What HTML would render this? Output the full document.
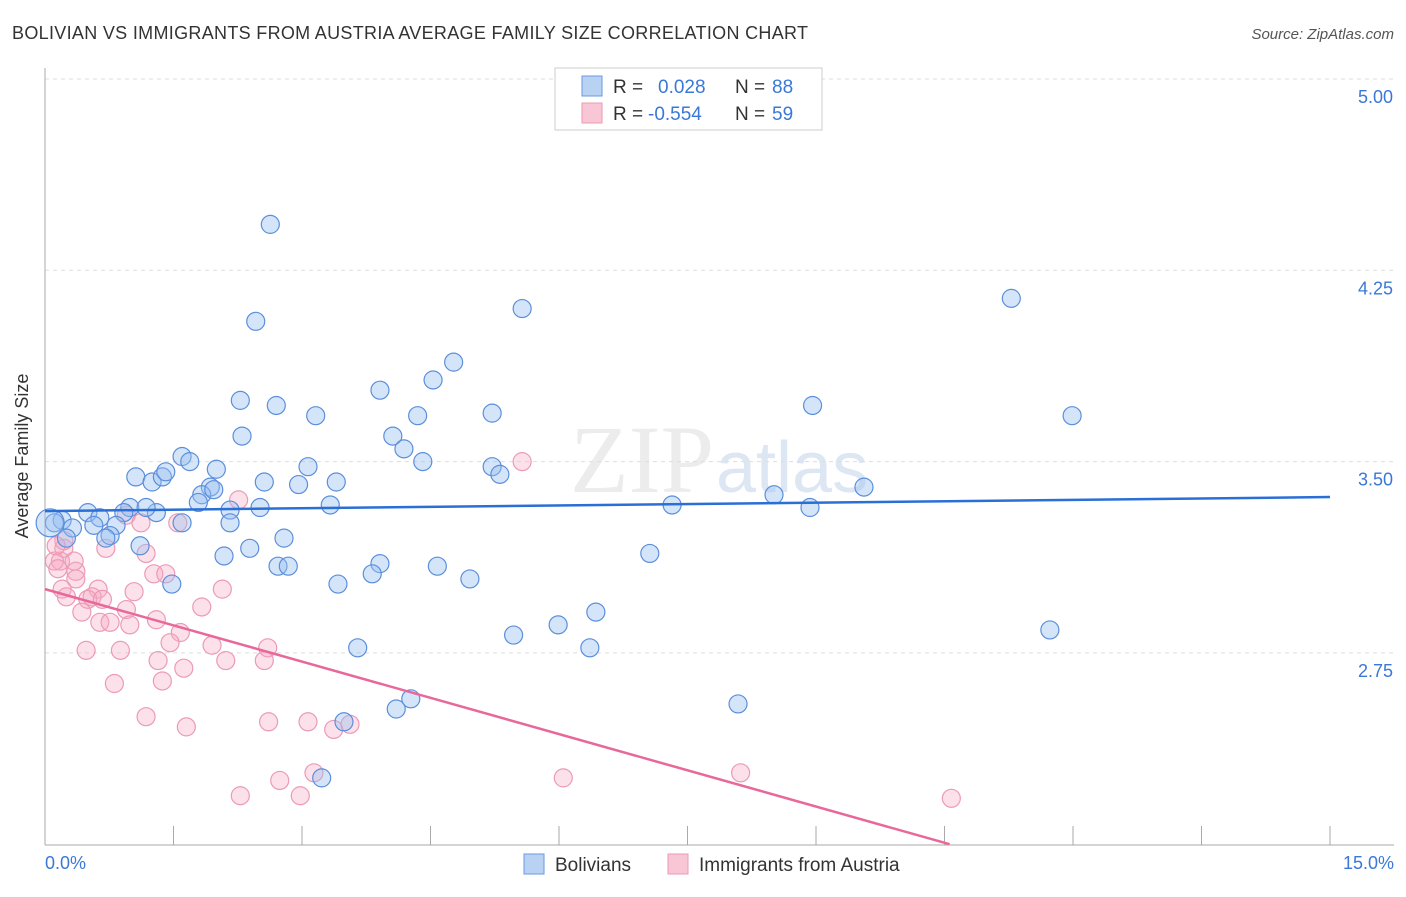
<!DOCTYPE html>
<html><head><meta charset="utf-8"><style>
body{margin:0;background:#fff;width:1406px;height:892px;overflow:hidden;font-family:"Liberation Sans",sans-serif}
</style></head><body>
<svg id="chart" width="1406" height="892" xmlns="http://www.w3.org/2000/svg" font-family="Liberation Sans, sans-serif">
<text x="12" y="39" font-size="18" fill="#333" textLength="796">BOLIVIAN VS IMMIGRANTS FROM AUSTRIA AVERAGE FAMILY SIZE CORRELATION CHART</text>
<text x="1394" y="39" font-size="15" fill="#555" text-anchor="end" font-style="italic">Source: ZipAtlas.com</text>
<text x="714" y="492" font-size="96" fill="#ececec" text-anchor="end" font-family="Liberation Serif, serif">ZIP</text>
<text x="716" y="492" font-size="72" fill="#dde6f3">atlas</text>
<g id="grid"></g>
<g id="axes"></g>
<g id="pts"></g>
<g id="lines"></g>
<text x="28" y="456" font-size="18" fill="#333" text-anchor="middle" transform="rotate(-90 28 456)">Average Family Size</text>
<text x="45" y="869" font-size="18" fill="#3a78d8">0.0%</text>
<text x="1394" y="869" font-size="18" fill="#3a78d8" text-anchor="end">15.0%</text>
<g>
<rect x="555" y="68" width="267" height="62" fill="#fff" stroke="#ccc"/>
<rect x="582" y="76" width="20" height="20" fill="#b8d2f4" stroke="#6a9ae0"/>
<rect x="582" y="103" width="20" height="20" fill="#f9c6d6" stroke="#ea9ab4"/>
<text x="613" y="93" font-size="19" fill="#333">R = </text><text x="658" y="93" font-size="19" fill="#3a78d8">0.028</text>
<text x="735" y="93" font-size="19" fill="#333">N = </text><text x="772" y="93" font-size="19" fill="#3a78d8">88</text>
<text x="613" y="120" font-size="19" fill="#333">R = </text><text x="648" y="120" font-size="19" fill="#3a78d8">-0.554</text>
<text x="735" y="120" font-size="19" fill="#333">N = </text><text x="772" y="120" font-size="19" fill="#3a78d8">59</text>
</g>
<g>
<rect x="524" y="854" width="20" height="20" fill="#b8d2f4" stroke="#6a9ae0"/>
<text x="555" y="871" font-size="19" fill="#333">Bolivians</text>
<rect x="668" y="854" width="20" height="20" fill="#f9c6d6" stroke="#ea9ab4"/>
<text x="699" y="871" font-size="19" fill="#333">Immigrants from Austria</text>
</g>
</svg>
<script>
const yTicks=[5.00,4.25,3.50,2.75];
const yTickLabels=["5.00","4.25","3.50","2.75"];
const xTicks=[0,1.5,3,4.5,6,7.5,9,10.5,12,13.5,15];
const blueX=[2.63,2.46,5.57,11.28,4.77,4.53,3.91,2.28,2.70,3.16,4.35,5.22,8.96,11.99,2.30,4.06,4.19,1.60,1.69,2.00,3.07,4.41,5.22,5.31,1.06,1.25,1.37,1.41,2.56,2.96,3.40,1.93,1.83,1.97,1.79,2.16,2.51,3.33,7.32,8.51,9.56,8.93,0.99,0.92,1.30,1.18,0.50,0.64,0.20,0.11,0.06,0.32,0.57,0.83,1.60,2.16,0.76,0.71,0.25,2.79,1.11,2.39,2.09,7.06,3.91,3.82,2.72,2.84,4.58,4.96,3.42,1.48,6.43,5.99,5.47,11.73,6.36,3.65,8.09,4.27,4.10,3.49,3.23];
const blueY=[4.43,4.05,4.10,4.14,3.89,3.82,3.78,3.74,3.72,3.68,3.68,3.69,3.72,3.68,3.60,3.60,3.55,3.52,3.50,3.47,3.48,3.50,3.48,3.45,3.44,3.42,3.44,3.46,3.42,3.41,3.42,3.40,3.37,3.39,3.34,3.31,3.32,3.33,3.33,3.37,3.40,3.32,3.32,3.30,3.30,3.32,3.30,3.28,3.27,3.26,3.26,3.24,3.25,3.25,3.26,3.26,3.21,3.20,3.20,3.20,3.17,3.16,3.13,3.14,3.10,3.06,3.09,3.09,3.09,3.04,3.02,3.02,2.91,2.86,2.82,2.84,2.77,2.77,2.55,2.57,2.53,2.48,2.26];
const pinkX=[5.57,2.26,0.95,1.12,1.55,1.18,0.71,0.22,0.18,0.11,0.15,0.36,0.36,0.62,0.20,0.25,1.04,1.27,1.41,2.07,0.55,0.50,0.67,0.95,0.43,1.83,0.64,0.76,0.99,1.30,1.58,1.46,1.95,2.60,0.48,0.88,1.32,2.11,2.56,1.62,1.37,0.81,1.18,1.65,2.61,3.07,3.37,3.56,2.74,3.14,2.28,2.98,6.05,8.12,10.58,0.22,0.34,0.13];
const pinkY=[3.50,3.35,3.29,3.26,3.26,3.14,3.16,3.16,3.11,3.11,3.08,3.07,3.04,3.00,3.00,2.97,2.99,3.06,3.06,3.00,2.97,2.96,2.96,2.92,2.91,2.93,2.87,2.87,2.86,2.88,2.83,2.79,2.78,2.77,2.76,2.76,2.72,2.72,2.72,2.69,2.64,2.63,2.50,2.46,2.48,2.48,2.45,2.47,2.25,2.28,2.19,2.19,2.26,2.28,2.18,3.19,3.11,3.17];
const blueTrend=[3.306,3.361];
const pinkTrend=[3.00,-0.0947];
const NS="http://www.w3.org/2000/svg";
const X0=45,X1=1330,YB=845;
function sx(v){return X0+v*(X1-X0)/15;}
function sy(v){return 79+(5-v)*255.07;}
function mk(tag,attrs,parent){const e=document.createElementNS(NS,tag);for(const k in attrs)e.setAttribute(k,attrs[k]);document.getElementById(parent).appendChild(e);return e;}
yTicks.forEach((t,i)=>{
 const l=mk('line',{x1:X0,x2:1394,y1:sy(t),y2:sy(t),stroke:'#ddd','stroke-dasharray':'4,4'},'grid');
 
 
 const tx=mk('text',{x:1393,y:sy(t)+24,'font-size':18,fill:'#3a78d8','text-anchor':'end'},'grid');
 tx.textContent=yTickLabels[i];
 
 
});
const ya=mk('line',{x1:X0,x2:X0,y1:68,y2:YB,stroke:'#aaa'},'axes');


const xa=mk('line',{x1:X0,x2:1394,y1:YB,y2:YB,stroke:'#aaa'},'axes');


xTicks.forEach(t=>{
 const l=mk('line',{x1:sx(t),x2:sx(t),y1:826,y2:YB,stroke:'#aaa'},'axes');
 
 
});
pinkX.forEach((x,i)=>{
 const c=mk('circle',{cx:sx(x),cy:sy(pinkY[i]),r:9,fill:'rgba(246,170,195,0.35)',stroke:'#ec9ab6','stroke-width':1.2},'pts');
 
 
});
blueX.forEach((x,i)=>{
 const c=mk('circle',{cx:sx(x),cy:sy(blueY[i]),r:(i==50?14:9),fill:'rgba(150,190,240,0.4)',stroke:'#5b8fdc','stroke-width':1.2},'pts');
 
 
});
const bl=mk('line',{x1:sx(0),y1:sy(blueTrend[0]),x2:sx(15),y2:sy(blueTrend[1]),stroke:'#2a6fd6','stroke-width':2.5},'lines');


const xEnd=Math.min(15,(2.0-pinkTrend[0])/pinkTrend[1]);
const pl=mk('line',{x1:sx(0),y1:sy(pinkTrend[0]),x2:sx(xEnd),y2:sy(pinkTrend[0]+pinkTrend[1]*xEnd),stroke:'#e8689a','stroke-width':2.5},'lines');


</script>
</body></html>
